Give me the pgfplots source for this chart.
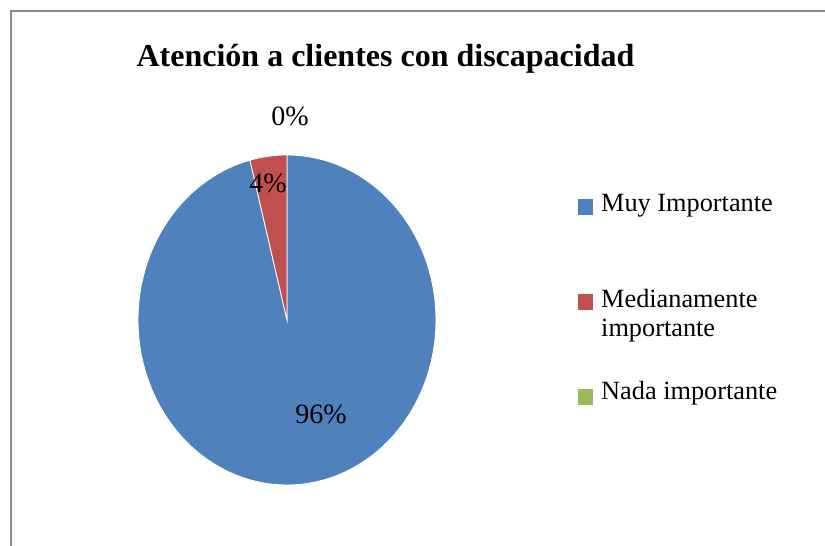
\documentclass[border=0pt]{standalone}
\usepackage{fontspec}
\setmainfont{Liberation Serif}
\usepackage{pgfplots}
\pgfplotsset{compat=1.18}
\definecolor{cA}{HTML}{4F81BD}
\definecolor{cB}{HTML}{C0504D}
\definecolor{cC}{HTML}{9BBB59}
\definecolor{frame}{HTML}{8C8C8C}
% data (percent)
\def\vA{96}\def\vB{4}\def\vC{0}
\pgfmathsetmacro{\aS}{90}
\pgfmathsetmacro{\aA}{90-3.6*\vA}
\pgfmathsetmacro{\aB}{\aA-3.6*\vB}
\begin{document}
\begin{tikzpicture}[x=1bp,y=1bp]
\path[use as bounding box] (0,0) rectangle (825,546);
\draw[frame, line width=2bp] (11,0) -- (11,535) -- (826,535);
\node[anchor=base, font=\fontsize{32bp}{38bp}\selectfont\bfseries] at (385.5,479) {Atención a clientes con discapacidad};
\begin{axis}[
  anchor=center, at={(287bp,226bp)},
  scale only axis, width=298bp, height=330bp,
  xmin=-1, xmax=1, ymin=-1, ymax=1,
  axis lines=none, clip=false,
]
\addplot[fill=cA, draw=white, line width=0.8bp, domain=\aA:\aS, samples=120, variable=\t]
  ({cos(t)},{sin(t)}) -- (0,0) -- cycle;
\addplot[fill=cB, draw=white, line width=0.8bp, domain=\aB:\aA, samples=20, variable=\t]
  ({cos(t)},{sin(t)}) -- (0,0) -- cycle;
\node[font=\fontsize{28bp}{32bp}\selectfont] at (axis cs:0.228,-0.57) {96\%};
\node[font=\fontsize{28bp}{32bp}\selectfont] at (axis cs:-0.128,0.83) {4\%};
\node[font=\fontsize{28bp}{32bp}\selectfont] at (axis cs:0.02,1.236) {0\%};
\end{axis}
% legend
\fill[cA] (578,331) rectangle (593,347);
\fill[cB] (578,236) rectangle (593,252);
\fill[cC] (578,141) rectangle (593,157);
\begin{scope}[every node/.style={anchor=base west, inner sep=0pt, font=\fontsize{26.3bp}{30bp}\selectfont}]
\node at (601,334) {Muy Importante};
\node at (601,238) {Medianamente};
\node at (601,209) {importante};
\node at (601,146) {Nada importante};
\end{scope}
\end{tikzpicture}
\end{document}
